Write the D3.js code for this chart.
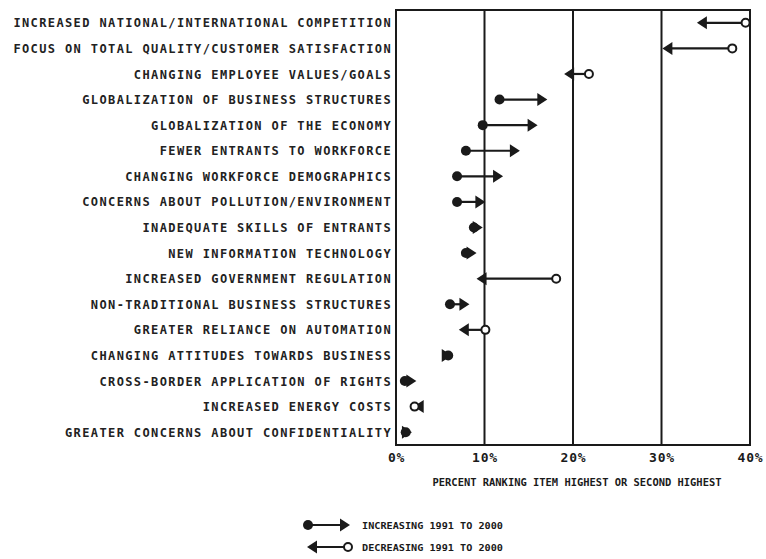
<!DOCTYPE html>
<html><head><meta charset="utf-8">
<script src="https://cdn.jsdelivr.net/npm/d3@7/dist/d3.min.js"></script>
<style>body{margin:0;background:#fff}svg{display:block}</style>
</head><body><svg id="c" width="766" height="559"></svg>
<script>
const categories = [
  "INCREASED NATIONAL/INTERNATIONAL COMPETITION",
  "FOCUS ON TOTAL QUALITY/CUSTOMER SATISFACTION",
  "CHANGING EMPLOYEE VALUES/GOALS",
  "GLOBALIZATION OF BUSINESS STRUCTURES",
  "GLOBALIZATION OF THE ECONOMY",
  "FEWER ENTRANTS TO WORKFORCE",
  "CHANGING WORKFORCE DEMOGRAPHICS",
  "CONCERNS ABOUT POLLUTION/ENVIRONMENT",
  "INADEQUATE SKILLS OF ENTRANTS",
  "NEW INFORMATION TECHNOLOGY",
  "INCREASED GOVERNMENT REGULATION",
  "NON-TRADITIONAL BUSINESS STRUCTURES",
  "GREATER RELIANCE ON AUTOMATION",
  "CHANGING ATTITUDES TOWARDS BUSINESS",
  "CROSS-BORDER APPLICATION OF RIGHTS",
  "INCREASED ENERGY COSTS",
  "GREATER CONCERNS ABOUT CONFIDENTIALITY"
];
const value1991 = [39.5, 38.0, 21.8, 11.7, 9.8, 7.9, 6.9, 6.9, 8.8, 7.9, 18.1, 6.1, 10.1, 5.9, 1.0, 2.1, 1.1];
const value2000 = [34.0, 30.1, 19.0, 17.1, 16.0, 14.0, 12.1, 10.1, 9.8, 9.1, 9.1, 8.3, 7.1, 6.3, 2.3, 2.0, 1.8];
const tickValues = [0, 10, 20, 30, 40];
const tickLabels = ["0%", "10%", "20%", "30%", "40%"];
const axisTitle = "PERCENT RANKING ITEM HIGHEST OR SECOND HIGHEST";
const legendLabels = ["INCREASING 1991 TO 2000", "DECREASING 1991 TO 2000"];

const data = categories.map((c, i) => ({cat: c, a: value1991[i], b: value2000[i]}));

const svg = d3.select("#c");
const ink = "#1a1a1a";
const mono = "'DejaVu Sans Mono','Liberation Mono',monospace";
const x = d3.scaleLinear().domain([0, 40]).range([396, 750]);
const y = d3.scaleBand().domain(categories).range([10, 445]).padding(0);
const yc = d => y(d) + y.bandwidth() / 2;

// gridlines
svg.append("g").selectAll("line").data([10, 20, 30]).join("line")
  .attr("x1", d => x(d)).attr("x2", d => x(d))
  .attr("y1", 10).attr("y2", 445)
  .attr("stroke", ink).attr("stroke-width", 2);

// frame
svg.append("rect").attr("x", x(0)).attr("y", 10)
  .attr("width", x(40) - x(0)).attr("height", 435)
  .attr("fill", "none").attr("stroke", ink).attr("stroke-width", 2);

// x axis labels via d3 axis
const xAxis = d3.axisBottom(x).tickValues(tickValues)
  .tickFormat((d, i) => tickLabels[i]).tickSize(0).tickPadding(8);
const gx = svg.append("g").attr("transform", "translate(0,445)").call(xAxis);
gx.select(".domain").remove();
gx.selectAll("text").attr("font-family", mono).attr("font-weight", "bold")
  .attr("font-size", 13).attr("letter-spacing", 0.8).attr("fill", ink);

// y axis labels
const yAxis = d3.axisLeft(y).tickSize(0).tickPadding(3);
const gy = svg.append("g").attr("transform", "translate(" + (x(0) - 1) + ",0)").call(yAxis);
gy.select(".domain").remove();
gy.selectAll("text").attr("font-family", mono).attr("font-weight", "bold")
  .attr("font-size", 12).attr("letter-spacing", 1.38).attr("fill", "#222")
  .attr("dy", "0.38em");

// axis title
svg.append("text").attr("x", 577).attr("y", 486).attr("text-anchor", "middle")
  .attr("font-family", mono).attr("font-weight", "bold").attr("font-size", 10.5)
  .attr("textLength", 289).attr("lengthAdjust", "spacingAndGlyphs")
  .attr("fill", ink).text(axisTitle);

// marks
function arrowHead(g, tipX, cy, dir) {
  const L = 10, H = 6.5;
  g.append("path")
    .attr("d", `M${tipX},${cy} L${tipX - dir * L},${cy - H} L${tipX - dir * L},${cy + H} Z`)
    .attr("fill", ink);
}
function drawArrow(g, xa, xb, cy) {
  const dir = xb >= xa ? 1 : -1;
  g.append("line").attr("x1", xa).attr("x2", xb - dir * 4).attr("y1", cy).attr("y2", cy)
    .attr("stroke", ink).attr("stroke-width", 2.2);
  arrowHead(g, xb, cy, dir);
  if (dir > 0) {
    g.append("circle").attr("cx", xa).attr("cy", cy).attr("r", 5).attr("fill", ink);
  } else {
    g.append("circle").attr("cx", xa).attr("cy", cy).attr("r", 4)
      .attr("fill", "#fff").attr("stroke", ink).attr("stroke-width", 2);
  }
}
const marks = svg.append("g");
data.forEach(d => drawArrow(marks, x(d.a), x(d.b), yc(d.cat)));

// legend
const leg = svg.append("g");
const legY = [525, 547];
drawArrow(leg, 308, 350, legY[0]);
drawArrow(leg, 348, 307, legY[1]);
leg.selectAll("text").data(legendLabels).join("text")
  .attr("x", 362).attr("y", (d, i) => legY[i] + 3.5)
  .attr("font-family", mono).attr("font-weight", "bold").attr("font-size", 9.5)
  .attr("textLength", 141).attr("lengthAdjust", "spacingAndGlyphs")
  .attr("fill", ink).text(d => d);
</script></body></html>
